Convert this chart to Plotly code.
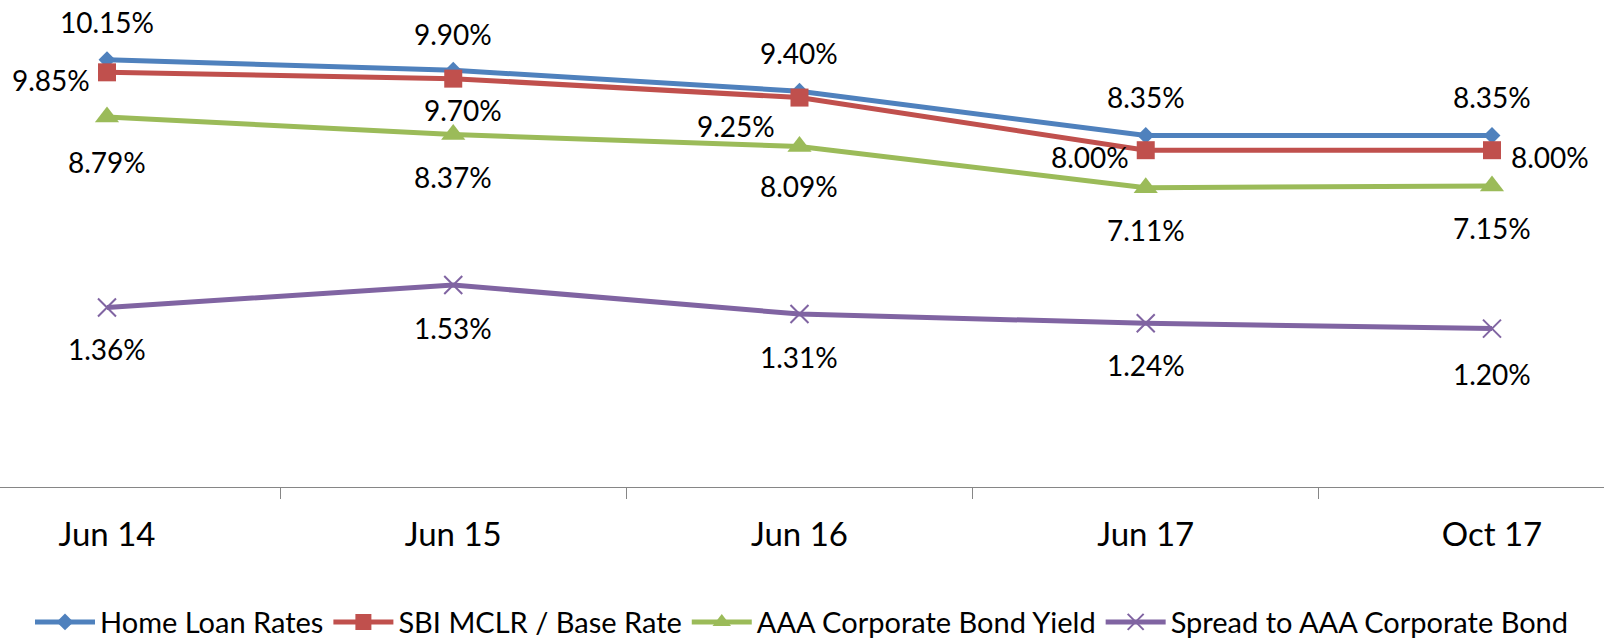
import plotly.graph_objects as go

# ---- data ----
categories = ["Jun 14", "Jun 15", "Jun 16", "Jun 17", "Oct 17"]
home_loan = [10.15, 9.90, 9.40, 8.35, 8.35]
sbi_mclr = [9.85, 9.70, 9.25, 8.00, 8.00]
aaa_yield = [8.79, 8.37, 8.09, 7.11, 7.15]
spread = [1.36, 1.53, 1.31, 1.24, 1.20]
series_names = ["Home Loan Rates", "SBI MCLR / Base Rate",
                "AAA Corporate Bond Yield", "Spread to AAA Corporate Bond"]

# ---- styles ----
colors = ["#4F81BD", "#C0504D", "#9BBB59", "#8064A2"]
FONT = "Lato, 'Open Sans', sans-serif"

# data label offsets (px) per point: (xshift, yshift)
home_off = [(0, 38), (0, 36), (0, 38), (0, 38), (0, 38)]
sbi_off = [(-56, -8), (10, -31), (-63, -28), (-56, -7), (58, -7)]
aaa_off = [(0, -45), (0, -42), (0, -40), (0, -42), (0, -42)]
spread_off = [(0, -42), (0, -43), (0, -43), (0, -42), (0, -45)]

fig = go.Figure()

series = [
    (home_loan, "diamond", 13, "y", home_off),
    (sbi_mclr, "square", 18, "y", sbi_off),
    (aaa_yield, "triangle-up", 21, "y", aaa_off),
    (spread, "x-thin", 18, "y2", spread_off),
]

annotations = []
for (vals, sym, size, yax, offs), name, col in zip(series, series_names, colors):
    marker = dict(symbol=sym, size=size, color=col)
    if sym == "x-thin":
        marker["line"] = dict(color=col, width=2)
    else:
        marker["line"] = dict(width=0)
    fig.add_trace(go.Scatter(
        x=categories, y=vals, name=name, mode="lines+markers",
        line=dict(color=col, width=5), marker=marker, yaxis=yax,
    ))
    for c, v, (dx, dy) in zip(categories, vals, offs):
        annotations.append(dict(
            x=c, y=v, xref="x", yref=yax, text=f"{v:.2f}%",
            showarrow=False, xshift=dx, yshift=dy,
            font=dict(family=FONT, size=28, color="#000000"),
        ))

PLOT_H = 638 - 10 - 151
fig.update_layout(
    width=1604, height=638,
    margin=dict(l=0, r=0, t=10, b=151),
    paper_bgcolor="white", plot_bgcolor="white",
    showlegend=True,
    legend=dict(
        orientation="h", xref="container", yref="container",
        x=0.5, xanchor="center", y=0.025, yanchor="middle",
        font=dict(family=FONT, size=29, color="#000000"),
        itemwidth=60, itemclick=False, bgcolor="rgba(0,0,0,0)",
    ),
    annotations=annotations,
    xaxis=dict(
        type="category", range=[-0.309, 4.3235],
        showline=True, linecolor="#868686", linewidth=1,
        ticks="outside", tickson="boundaries", ticklen=11,
        tickcolor="#868686", tickwidth=1, showgrid=False, zeroline=False,
        tickfont=dict(family=FONT, size=33, color="#000000"),
        ticklabelstandoff=18,
    ),
    yaxis=dict(range=[0, PLOT_H / 42.1], visible=False, showgrid=False),
    yaxis2=dict(range=[0, PLOT_H / 132.0], visible=False, showgrid=False,
                overlaying="y", side="right"),
)

fig.write_html("out.html",
               config={"displayModeBar": False},
               post_script="document.body.style.margin='0';"
                           "document.body.style.overflow='hidden';")
